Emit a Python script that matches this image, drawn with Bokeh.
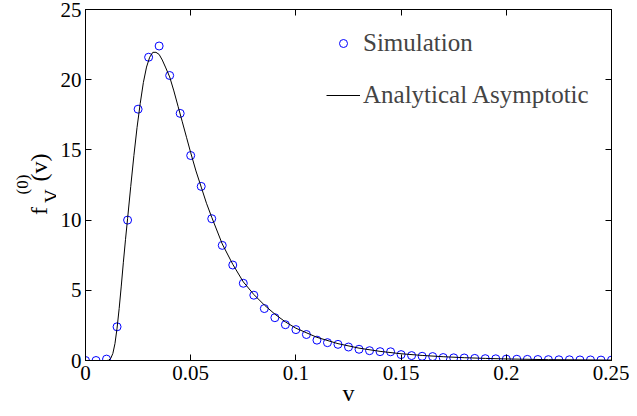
import math
from bokeh.plotting import figure
from bokeh.layouts import row
from bokeh.models import (FixedTicker, LinearAxis, Label, Legend, LegendItem, Range1d)
from bokeh.embed import file_html
from bokeh.resources import INLINE

# ---- data ----
sim_x = [0.000, 0.005, 0.010, 0.015, 0.020, 0.025, 0.030, 0.035, 0.040, 0.045,
         0.050, 0.055, 0.060, 0.065, 0.070, 0.075, 0.080, 0.085, 0.090, 0.095,
         0.100, 0.105, 0.110, 0.115, 0.120, 0.125, 0.130, 0.135, 0.140, 0.145,
         0.150, 0.155, 0.160, 0.165, 0.170, 0.175, 0.180, 0.185, 0.190, 0.195,
         0.200, 0.205, 0.210, 0.215, 0.220, 0.225, 0.230, 0.235, 0.240, 0.245,
         0.250]
sim_y = [0.0, 0.0, 0.1, 2.4, 10.0, 17.9, 21.6, 22.4, 20.3, 17.6,
         14.6, 12.4, 10.1, 8.2, 6.8, 5.5, 4.65, 3.7, 3.05, 2.55,
         2.2, 1.85, 1.45, 1.27, 1.15, 0.96, 0.80, 0.70, 0.63, 0.62,
         0.42, 0.35, 0.30, 0.28, 0.21, 0.19, 0.18, 0.15, 0.13, 0.12,
         0.10, 0.09, 0.08, 0.07, 0.06, 0.05, 0.05, 0.04, 0.04, 0.03,
         0.03]

ana_x = [0.0, 0.005, 0.010, 0.011, 0.012, 0.013, 0.014, 0.015, 0.016, 0.017,
         0.018, 0.019, 0.020, 0.0215, 0.023, 0.0245, 0.026, 0.0275, 0.029, 0.0305,
         0.032, 0.0335, 0.035, 0.0365, 0.038, 0.040, 0.042, 0.044, 0.046, 0.048,
         0.050, 0.0525, 0.055, 0.0575, 0.060, 0.065, 0.070, 0.075, 0.080, 0.085,
         0.090, 0.095, 0.100, 0.110, 0.120, 0.130, 0.140, 0.150, 0.160, 0.170,
         0.180, 0.190, 0.200, 0.220, 0.250]
ana_y = [0.0, 0.0, 0.0, 0.02, 0.15, 0.5, 1.2, 2.3, 3.7, 5.3,
         7.0, 8.6, 10.1, 12.4, 14.6, 16.6, 18.3, 19.8, 20.9, 21.6,
         21.95, 21.95, 21.8, 21.4, 20.9, 20.2, 19.2, 18.1, 17.0, 15.9,
         14.8, 13.5, 12.35, 11.2, 10.2, 8.3, 6.85, 5.6, 4.7, 3.95,
         3.3, 2.75, 2.3, 1.65, 1.2, 0.88, 0.65, 0.48, 0.36, 0.27,
         0.2, 0.15, 0.11, 0.06, 0.03]

x_ticks = [0, 0.05, 0.1, 0.15, 0.2, 0.25]
x_tick_labels = ["0", "0.05", "0.1", "0.15", "0.2", "0.25"]
y_ticks = [0, 5, 10, 15, 20, 25]

series_names = ["Simulation", "Analytical Asymptotic"]

FONT = "Liberation Serif"
H = 408
LW = 56  # width of the y-label strip

# ---- y label strip (its own small figure so the label is not clipped) ----
lf = figure(width=LW, height=H, output_backend="svg", toolbar_location=None,
            x_range=Range1d(0, LW), y_range=Range1d(H, 0),
            x_axis_type=None, y_axis_type=None,
            min_border=0, outline_line_color=None)
lf.grid.visible = False
ang = math.pi / 2
def lab(txt, x, y, size):
    lf.add_layout(Label(x=x, y=y, text=txt, angle=ang, text_font=FONT,
                        text_font_size=size, text_align="left",
                        text_baseline="alphabetic", text_color="black"))
lab("f", 38, 239, "24px")
lab("(0)", 22, 215, "17px")
lab("V", 51, 225, "19px")
lab("(v)", 38, 200, "24px")

# ---- main plot ----
p = figure(width=629 - LW, height=H, output_backend="svg", toolbar_location=None,
           x_range=Range1d(0, 0.25), y_range=Range1d(0, 25),
           min_border_left=85 - LW, min_border_right=18, min_border_top=9,
           min_border_bottom=H - 360)
p.xgrid.visible = False
p.ygrid.visible = False
p.outline_line_color = "black"
p.outline_line_width = 1

for ax in (p.xaxis[0], p.yaxis[0]):
    ax.major_tick_in = 6
    ax.major_tick_out = 0
    ax.minor_tick_line_color = None
    ax.axis_line_color = "black"
    ax.major_tick_line_color = "black"
    ax.major_label_text_font = FONT
    ax.major_label_text_font_size = "21px"
    ax.major_label_text_color = "black"

p.xaxis[0].ticker = FixedTicker(ticks=x_ticks)
p.xaxis[0].major_label_overrides = {t: l for t, l in zip(x_ticks, x_tick_labels)}
p.xaxis[0].major_label_standoff = 5
p.xaxis[0].axis_label = "v"
p.xaxis[0].axis_label_text_font = FONT
p.xaxis[0].axis_label_text_font_size = "24px"
p.xaxis[0].axis_label_text_font_style = "normal"
p.xaxis[0].axis_label_text_color = "black"
p.xaxis[0].axis_label_standoff = -3
p.yaxis[0].ticker = FixedTicker(ticks=y_ticks)
p.yaxis[0].major_label_standoff = 4

# mirrored ticks on top / right (box on), without labels
top = LinearAxis(ticker=FixedTicker(ticks=x_ticks), major_tick_in=6, major_tick_out=0,
                 minor_tick_line_color=None, major_label_standoff=0,
                 major_label_overrides={t: "" for t in x_ticks}, axis_line_color="black")
right = LinearAxis(ticker=FixedTicker(ticks=y_ticks), major_tick_in=6, major_tick_out=0,
                   minor_tick_line_color=None, major_label_standoff=0,
                   major_label_overrides={t: "" for t in y_ticks}, axis_line_color="black")
p.add_layout(top, "above")
p.add_layout(right, "right")

r_sim = p.scatter(sim_x, sim_y, marker="circle", size=8, fill_color=None,
                  line_color="#0000ff", line_width=1)
r_ana = p.line(ana_x, ana_y, line_color="black", line_width=1)

legend = Legend(items=[LegendItem(label=series_names[0], renderers=[r_sim]),
                       LegendItem(label=series_names[1], renderers=[r_ana])],
                location=(241, 251), border_line_color=None, background_fill_alpha=0,
                label_text_font=FONT, label_text_font_size="25px",
                glyph_width=34, glyph_height=20, label_height=20, label_standoff=3,
                spacing=24, padding=0, margin=0)
p.add_layout(legend)

layout = row(lf, p, spacing=0)
open("out.html", "w").write(file_html(layout, INLINE))
